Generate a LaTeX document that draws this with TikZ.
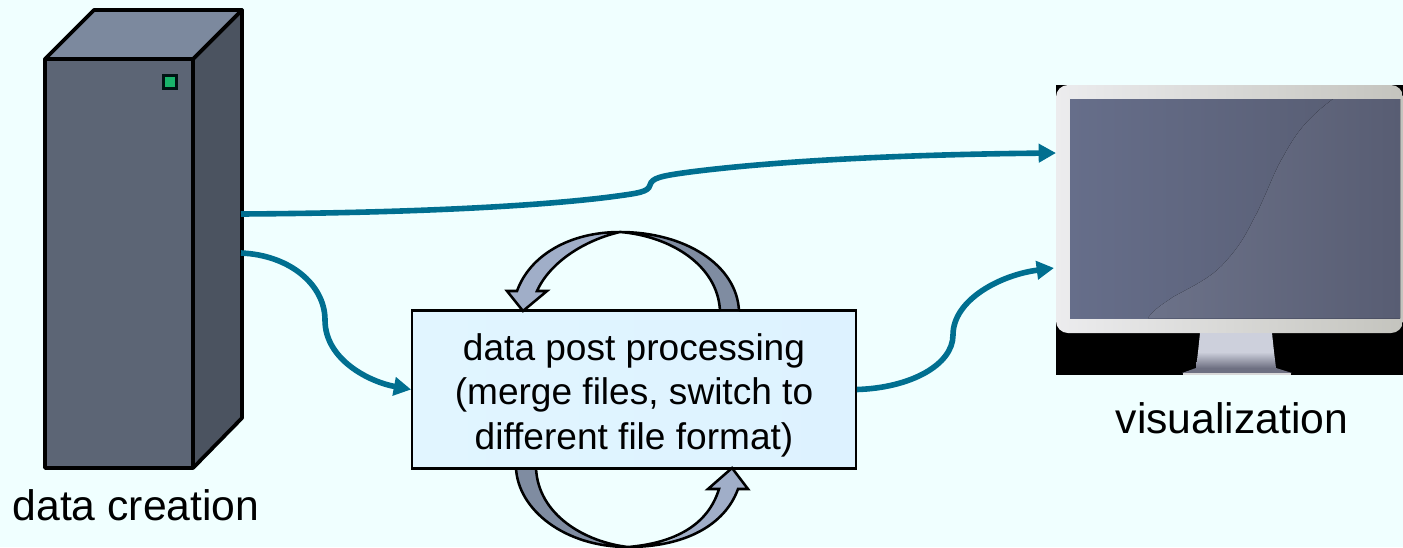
\documentclass[tikz,border=0pt]{standalone}
\usepackage{fontspec}
\setmainfont{Liberation Sans}
\usetikzlibrary{arrows.meta}
\definecolor{bgc}{HTML}{F0FFFF}
\definecolor{teal1}{HTML}{006F90}
\definecolor{boxl}{HTML}{E1F5FF}
\definecolor{boxr}{HTML}{DDF2FF}
\definecolor{twf}{HTML}{5C6575}
\definecolor{tws}{HTML}{4B5360}
\definecolor{twt}{HTML}{7C899E}
\definecolor{led}{HTML}{19B46B}
\definecolor{bzl}{HTML}{ECECEE}
\definecolor{bzr}{HTML}{C4C4BE}
\definecolor{scl}{HTML}{666E8A}
\definecolor{scr}{HTML}{565B70}
\definecolor{swl}{HTML}{6C7289}
\definecolor{swr}{HTML}{585D73}
\definecolor{stt}{HTML}{CDD0DC}
\definecolor{stb}{HTML}{6E7082}
\definecolor{lpd}{HTML}{7F8CA1}
\definecolor{lpl}{HTML}{A0AEC8}
\tikzset{
  outline/.style={draw=black,line width=2.8pt,line join=round},
  flow/.style={draw=teal1,line width=4.2pt,-{Triangle[length=13pt,width=13.5pt]}},
  loopedge/.style={draw=black,line width=1.9pt,line join=miter},
  label/.style={font=\fontsize{32}{38}\selectfont,inner sep=0pt,text=black},
  procbox/.style={draw=black,line width=1.3pt,left color=boxl,right color=boxr,minimum width=333pt,minimum height=117.75pt,inner sep=0pt},
  proctext/.style={align=center,inner sep=0pt,font=\fontsize{27.8}{33.4}\selectfont}
}
\begin{document}
\begin{tikzpicture}[x=0.75pt,y=-0.75pt]
\useasboundingbox (0,0) rectangle (1403,547);
\fill[bgc] (0,0) rectangle (1403,547);
\clip (0,0) rectangle (1403,547);

% tower
\draw[outline,fill=twf] (45,59) rectangle (193,468);
\draw[outline,fill=tws] (193,59) -- (242,10) -- (242,418) -- (193,468) -- cycle;
\draw[outline,fill=twt] (45,59) -- (94,10) -- (242,10) -- (193,59) -- cycle;
\draw[fill=led,draw=black!85!teal,line width=1.8pt] (163.5,75.5) rectangle (176.5,88.5);
\node[label] (creation) at (136,505.5) {data creation};
\coordinate (towerA) at (241,214);
\coordinate (towerB) at (241,253);

% monitor
\node[inner sep=0pt,minimum width=260.25pt,minimum height=217.5pt,fill=black] (monitor) at (1229.5,230) {};
\fill[left color=bzl,right color=bzr,rounded corners=9pt] (1056,85) rectangle (1403,333);
\fill[left color=scl,right color=scr] (1070,99) rectangle (1400,318);
\fill[left color=swl,right color=swr] (1148,318) .. controls (1155,308) and (1165,303) .. (1173,297)
  .. controls (1195,285) and (1213,277) .. (1227,260)
  .. controls (1245,240) and (1250,225) .. (1257,213)
  .. controls (1268,190) and (1275,170) .. (1283,157)
  .. controls (1295,135) and (1305,120) .. (1333,99)
  -- (1400,99) -- (1400,318) -- cycle;
\fill[stt] (1200,333) -- (1272,333) -- (1274,352) -- (1198,352) -- cycle;
\fill[top color=stt,bottom color=stb] (1198,352) -- (1274,352) -- (1276,368) -- (1196,368) -- cycle;
\fill[stb] (1196,368) -- (1276,368) -- (1292,373) -- (1182,373) -- cycle;
\fill[white!85!black] (1183,373) rectangle (1291,375);
\node[label] (vis) at (1232,418) {visualization};
\coordinate (monA) at (1056,153);
\coordinate (monB) at (1054,268);

% process box
\node[procbox] (box) at (634,389.5) {};
\node[proctext] (boxtext) at (634,395) {data post processing\\(merge files, switch to\\different file format)};

% loop arrows
\fill[lpd] (739,311) .. controls (737,265) and (685,232) .. (620,232)
  .. controls (670,236) and (718,265) .. (720,311) -- cycle;
\fill[lpl] (620,232) .. controls (570,232) and (530,255) .. (517,291) -- (507,291) -- (523,311) -- (547,291) -- (537,291)
  .. controls (550,262) and (585,240) .. (620,232) -- cycle;
\draw[loopedge] (739,311) .. controls (737,265) and (685,232) .. (620,232)
  .. controls (570,232) and (530,255) .. (517,291) -- (507,291) -- (523,311) -- (547,291) -- (537,291)
  .. controls (550,262) and (585,240) .. (620,232)
  .. controls (670,236) and (718,265) .. (720,311);

\fill[lpd] (516,468) .. controls (518,510) and (565,547) .. (628,547)
  .. controls (585,542) and (538,515) .. (536,468) -- cycle;
\fill[lpl] (628,547) .. controls (675,547) and (708,525) .. (719,489) -- (708,489) -- (732,468) -- (748,489) -- (738,489)
  .. controls (725,525) and (685,547) .. (628,547) -- cycle;
\draw[loopedge] (516,468) .. controls (518,510) and (565,547) .. (628,547)
  .. controls (585,542) and (538,515) .. (536,468);
\draw[loopedge] (628,547) .. controls (675,543) and (708,525) .. (719,489) -- (708,489) -- (732,468) -- (748,489) -- (738,489)
  .. controls (725,525) and (685,547) .. (628,547);
\draw[draw=black,line width=1.3pt] (box.south west) -- (box.south east);
\draw[draw=black,line width=1.3pt] (box.north west) -- (box.north east);

% connectors
\draw[flow] (towerA) .. controls (400,213) and (530,207) .. (610,197)
  .. controls (640,193) and (648,192) .. (650,185)
  .. controls (652,178) and (660,176) .. (690,172)
  .. controls (800,158) and (950,154) .. (monA);
\draw[flow] (towerB) .. controls (290,255) and (325,285) .. (325,320)
  .. controls (325,360) and (370,382) .. (box.west);
\draw[flow] (box.east) .. controls (910,388) and (953,365) .. (953,335)
  .. controls (953,300) and (1000,275) .. (monB);
\end{tikzpicture}
\end{document}
